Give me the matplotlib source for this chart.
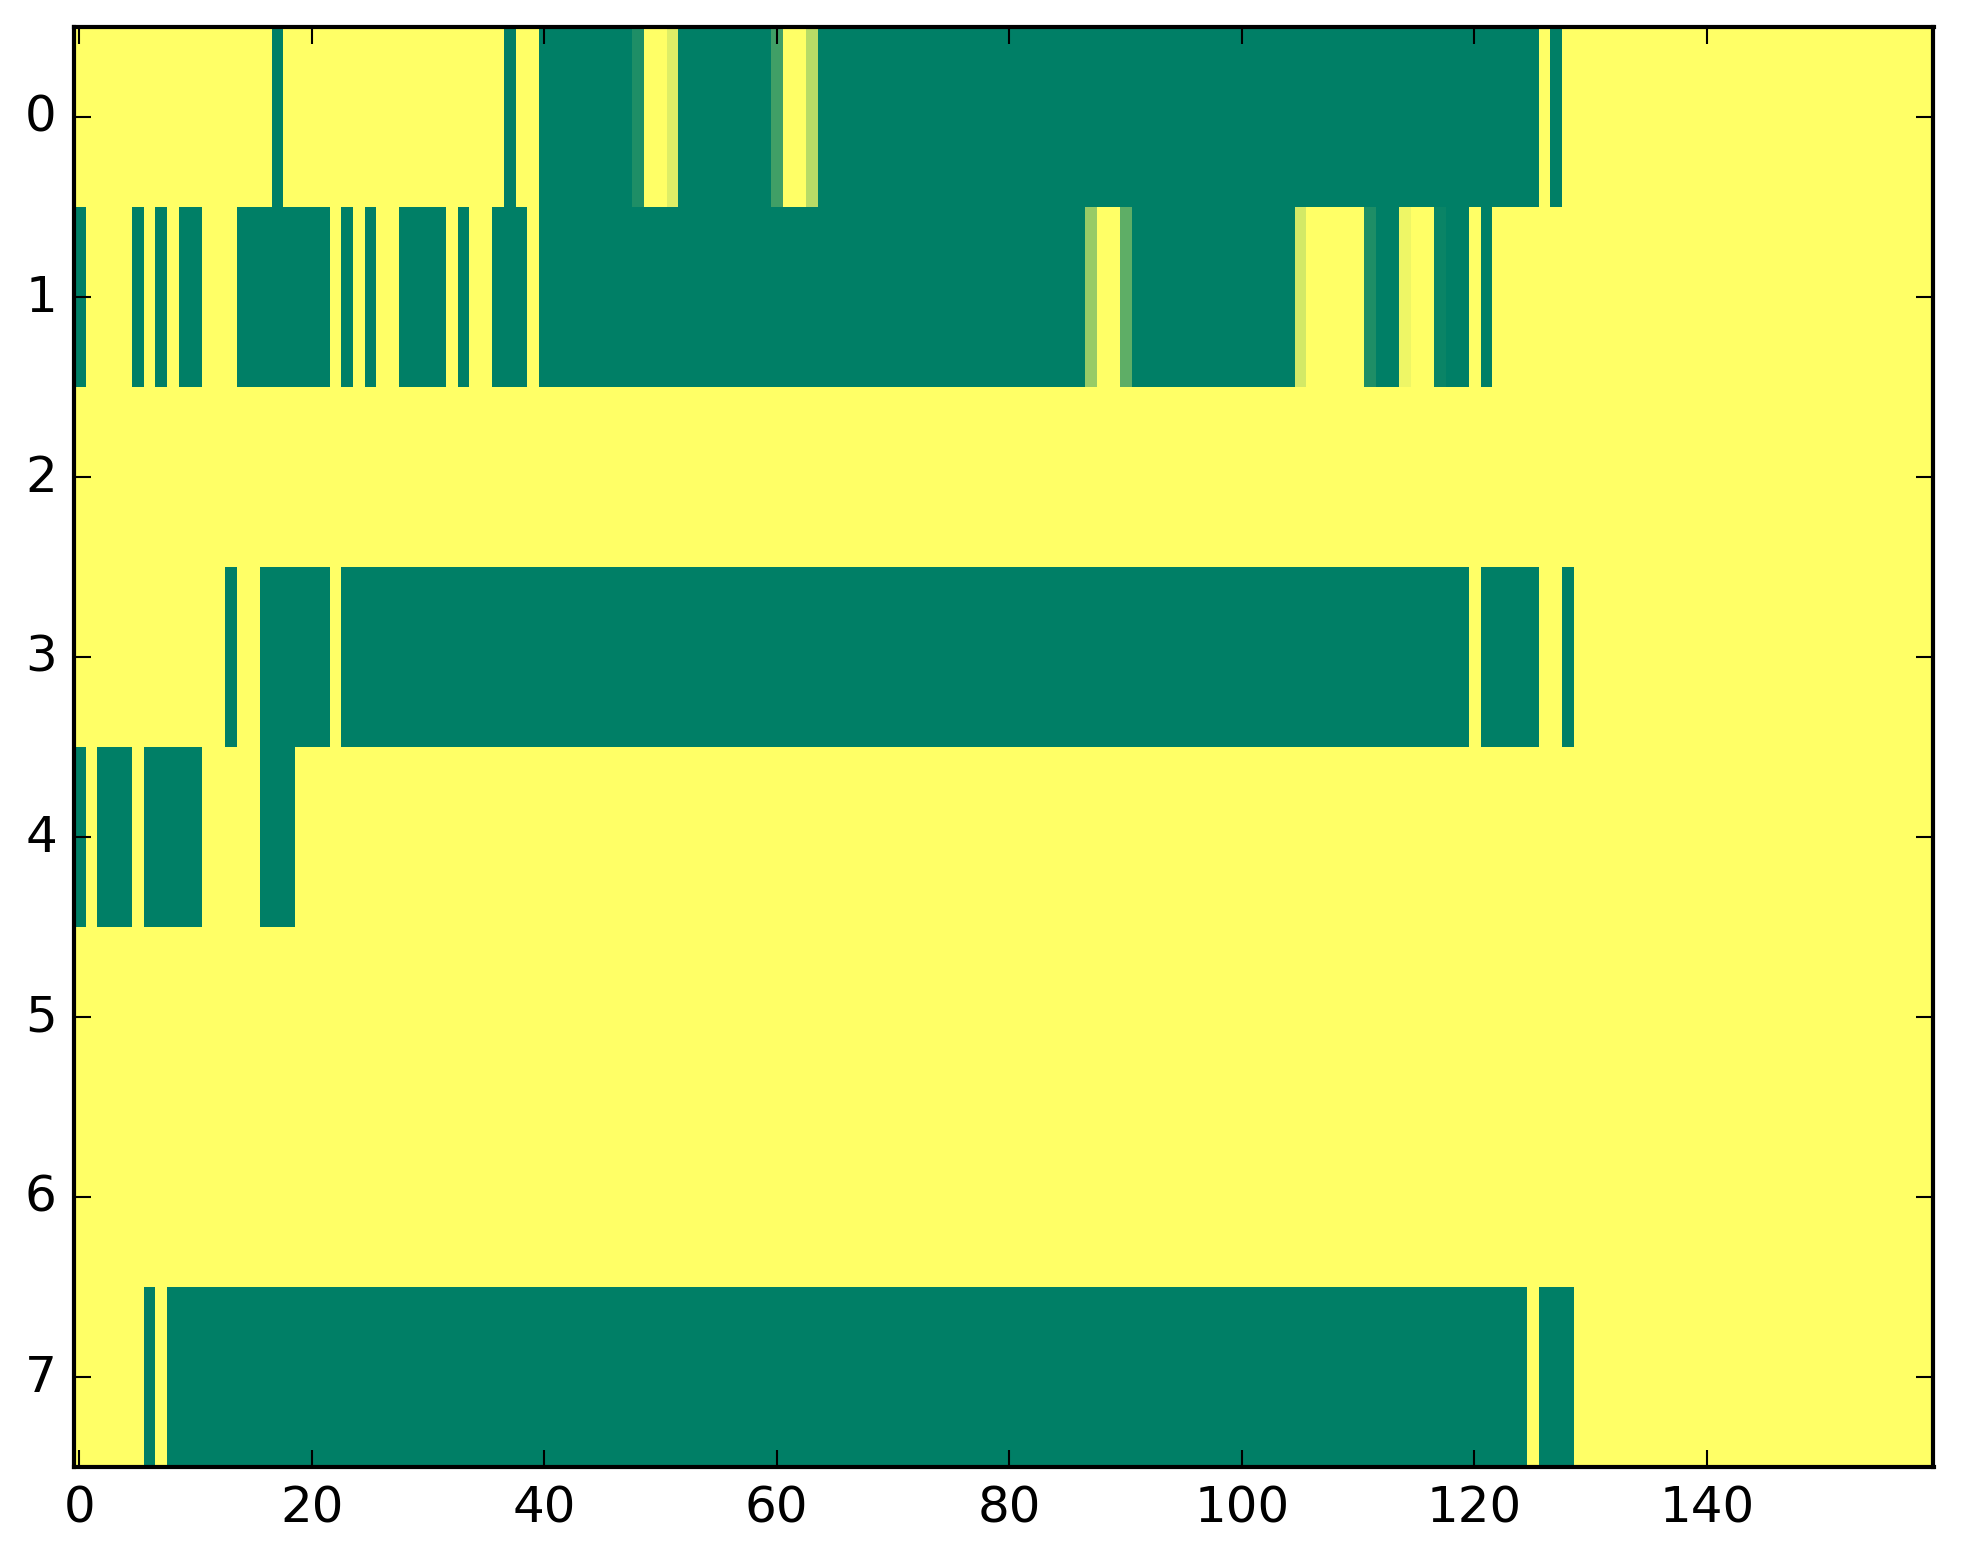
import matplotlib
matplotlib.use("Agg")
import matplotlib.pyplot as plt
import numpy as np

plt.style.use("classic")

n_rows = 8
n_cols = 160

# green (value 0) runs per row, inclusive column ranges; everything else is 1 (yellow)
green_runs = {
    0: [(17, 17), (37, 37), (40, 47), (52, 59), (64, 125), (127, 127)],
    1: [(0, 0), (5, 5), (7, 7), (9, 10), (14, 21), (23, 23), (25, 25), (28, 31),
        (33, 33), (36, 38), (40, 86), (91, 104), (112, 113), (118, 119), (121, 121)],
    2: [],
    3: [(13, 13), (16, 21), (23, 119), (121, 125), (128, 128)],
    4: [(0, 0), (2, 4), (6, 10), (16, 18)],
    5: [],
    6: [],
    7: [(6, 6), (8, 124), (126, 128)],
}

# cells with in-between values (row, col): value
partial_cells = {
    (0, 48): 0.12, (0, 51): 0.87, (0, 60): 0.25, (0, 63): 0.72,
    (1, 87): 0.59, (1, 90): 0.37, (1, 105): 0.83, (1, 111): 0.12,
    (1, 114): 0.93, (1, 117): 0.04,
}

data = np.ones((n_rows, n_cols))
for r, runs in green_runs.items():
    for a, b in runs:
        data[r, a:b + 1] = 0.0
for (r, c), v in partial_cells.items():
    data[r, c] = v

fig = plt.figure(figsize=(1963 / 300, 1564 / 300), dpi=300)
fig.patch.set_facecolor("white")
ax = fig.add_axes([73.5 / 1963, 96 / 1564, 1860 / 1963, 1440 / 1564])

ax.imshow(data, cmap="summer", aspect="auto", interpolation="nearest", vmin=0, vmax=1)
ax.set_xticks(np.arange(0, 160, 20))
ax.set_yticks(np.arange(0, 8))
ax.tick_params(direction="in", top=True, right=True, labelsize=12)

fig.savefig("out.png", dpi=300, facecolor="white")
